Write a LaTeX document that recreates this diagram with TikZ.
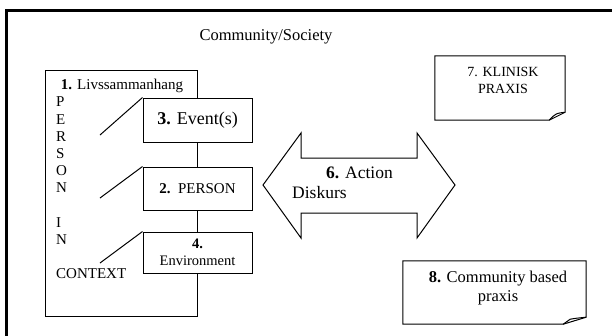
\documentclass[tikz,border=0pt]{standalone}
\usepackage{fontspec}
\setmainfont{Liberation Serif}
\begin{document}
\begin{tikzpicture}[x=1pt,y=-1pt,
  thinline/.style={line width=1pt},
  box/.style={draw,fill=white,line width=1pt,inner sep=0pt,align=center},
  tA/.style={font=\fontsize{15}{17}\selectfont},
  tB/.style={font=\fontsize{18}{20}\selectfont},
  tC/.style={font=\fontsize{14.5}{16.5}\selectfont},
  tD/.style={font=\fontsize{16.5}{19}\selectfont},
  tE/.style={font=\fontsize{17.5}{20}\selectfont},
  tF/.style={font=\fontsize{14}{17}\selectfont},
  letter/.style={tA,anchor=west,inner sep=0pt}]
\clip (0,0) rectangle (612,335);
% outer frame
\draw[line width=2.5pt] (6.5,10.5) rectangle (640,360);
\node[tD] (title) at (266,37) {Community/Society};
% box 1
\node[draw,thinline,minimum width=152pt,minimum height=246pt,inner sep=0pt] (b1) at (121,193) {};
\node[tA] (l1) at (122,86) {\textbf{1.} Livssammanhang};
\foreach \t/\y [count=\i] in {P/102,E/119.2,R/136.4,S/153.6,O/170.8,N/188,I/222.5,N/239.7}
  \node[letter] (c\i) at (56,\y) {\t};
\node[letter] (ctx) at (56,274) {CONTEXT};
% diagonal connectors
\coordinate (d3) at (100,135);
\coordinate (d2) at (100,198);
\coordinate (d4) at (100,263);
% inner boxes
\node[box,tB,minimum width=109pt,minimum height=44pt] (b3) at (197.5,120) {\textbf{3.} Event(s)};
\node[box,tA,minimum width=109pt,minimum height=43pt] (b2) at (197.5,188.5) {\textbf{2.}\ \ PERSON};
\node[box,tC,minimum width=109pt,minimum height=41pt] (b4) at (197.5,252.5) {\textbf{4.}\\Environment};
\draw[thinline] (d3) -- (b3.north west);
\draw[thinline] (d2) -- (b2.north west);
\draw[thinline] (d4) -- (b4.north west);
% double arrow
\draw[thinline,fill=white] (263,185) -- (301,133) -- (301,158) -- (417,158) -- (417,133) -- (455,185)
  -- (417,238) -- (417,213) -- (301,213) -- (301,238) -- cycle;
\node[tE,anchor=west,inner sep=0pt] (a6) at (326,173) {\textbf{6.} Action};
\node[tE,anchor=west,inner sep=0pt] (a6b) at (292,193) {Diskurs};
% box 7
\node[minimum width=130pt,minimum height=64pt,inner sep=0pt] (b7) at (500,88) {};
\draw[thinline] (b7.north west) -- (b7.north east) -- ([yshift=8pt]b7.south east)
  -- ([xshift=-16pt]b7.south east) -- (b7.south west) -- cycle;
\draw[thinline] ([yshift=8pt]b7.south east) .. controls ([xshift=-8pt,yshift=7pt]b7.south east) .. ([xshift=-12pt,yshift=4pt]b7.south east) -- ([xshift=-16pt]b7.south east);
\node[tF,align=center] (t7) at (503,80.5) {7. KLINISK\\PRAXIS};
% box 8
\node[minimum width=183pt,minimum height=63pt,inner sep=0pt] (b8) at (494.5,292.5) {};
\draw[thinline] (b8.north west) -- (b8.north east) -- ([yshift=7pt]b8.south east)
  -- ([xshift=-23pt]b8.south east) -- (b8.south west) -- cycle;
\draw[thinline] ([yshift=7pt]b8.south east) .. controls ([xshift=-10pt,yshift=6pt]b8.south east) .. ([xshift=-16pt,yshift=5pt]b8.south east) -- ([xshift=-23pt]b8.south east);
\node[tD,align=center] (t8) at (498,288.5) {\textbf{8.} Community based\\praxis};
\end{tikzpicture}
\end{document}
